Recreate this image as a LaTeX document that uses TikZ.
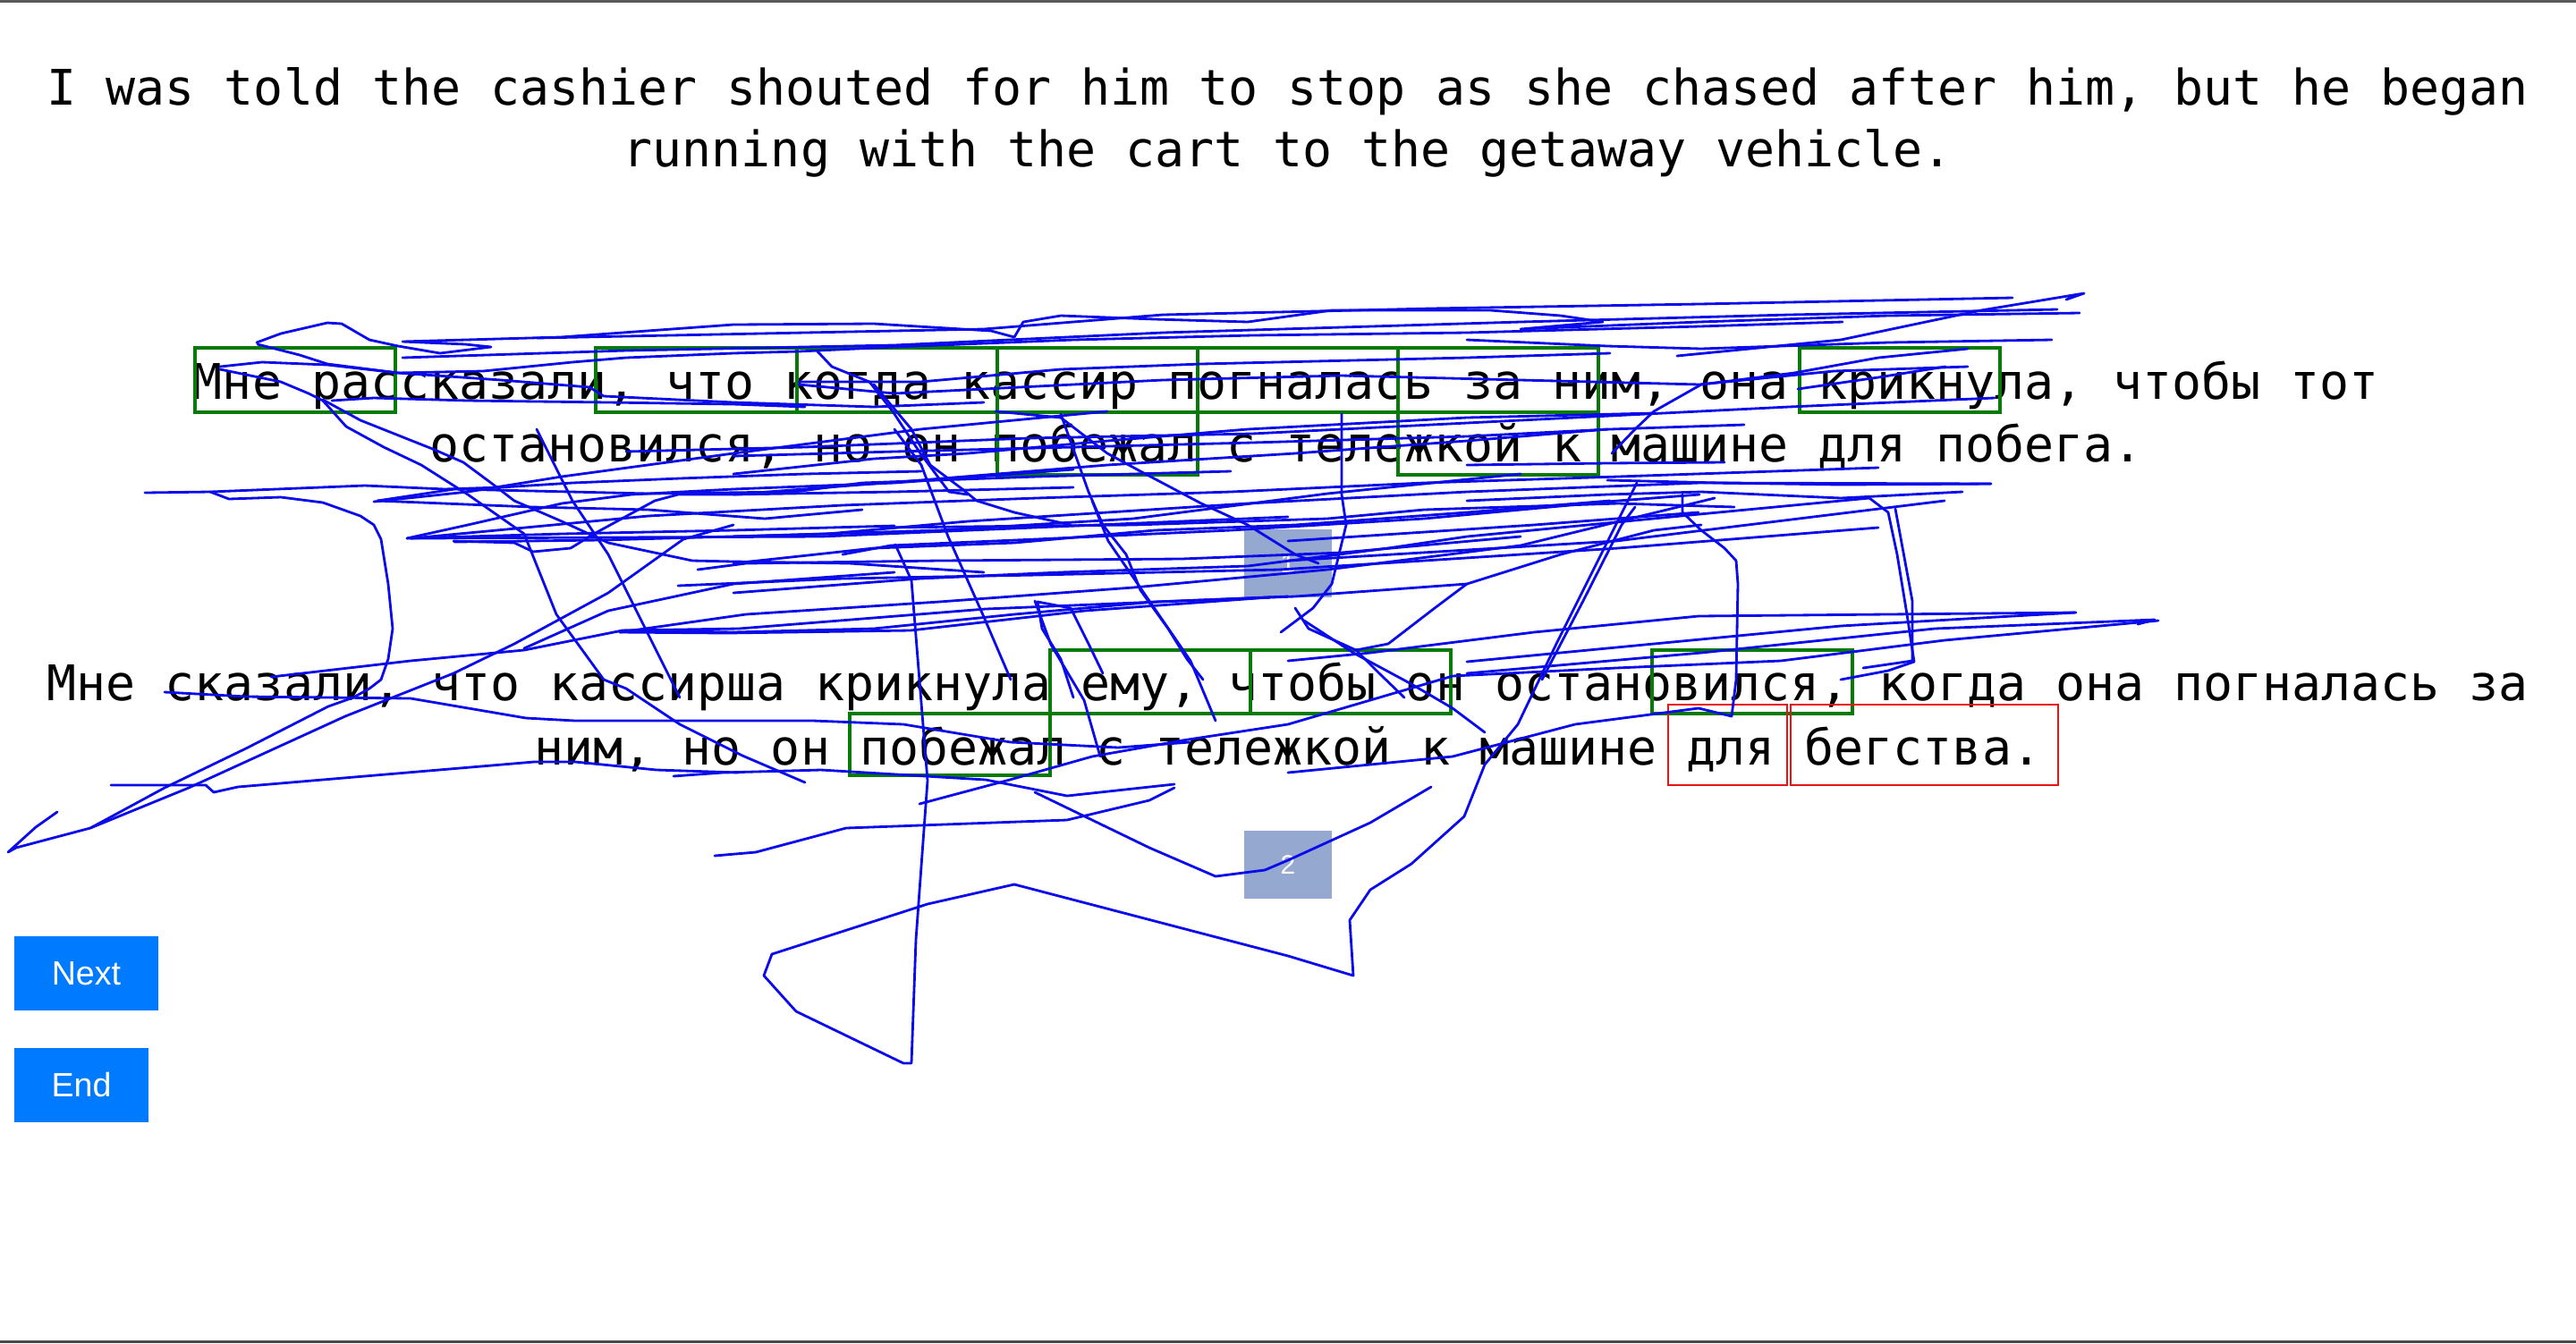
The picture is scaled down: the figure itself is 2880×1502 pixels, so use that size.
\documentclass[tikz,border=0pt]{standalone}
\usepackage{fontspec}
\setmainfont{Liberation Sans}
\setmonofont{DejaVu Sans Mono}
\definecolor{hitgreen}{RGB}{8,122,8}
\definecolor{missred}{RGB}{230,20,20}
\definecolor{tabgray}{RGB}{148,168,208}
\definecolor{btnblue}{RGB}{0,123,255}
\definecolor{gazeblue}{RGB}{10,10,235}
\definecolor{rulegray}{RGB}{90,90,90}
\begin{document}
\begin{tikzpicture}[x=0.01cm,y=-0.01cm]
	\tikzset{
		sent/.style={anchor=base,inner sep=0pt,font=\ttfamily\fontsize{15.6pt}{19pt}\selectfont},
		hit/.style={draw=hitgreen,line width=1.1pt},
		miss/.style={draw=missred,line width=0.6pt},
		btn/.style={text=white,font=\fontsize{10.7pt}{12pt}\selectfont},
		tabnum/.style={text=white,font=\fontsize{8.5pt}{10pt}\selectfont},
		gaze/.style={draw=gazeblue,line width=0.8pt,line join=round,line cap=round}
	}

	\useasboundingbox (0,0) rectangle (2880,1502);
	\fill[white] (0,0) rectangle (2880,1502);
	\fill[rulegray] (0,0) rectangle (2880,3);
	\fill[rulegray!80!black] (0,1499) rectangle (2880,1502);

	\node[sent] (en1) at (1440,117) {I was told the cashier shouted for him to stop as she chased after him, but he began};
	\node[sent] (en2) at (1440,186) {running with the cart to the getaway vehicle.};

	\node[sent] (ru11) at (1438,446) {Мне рассказали, что когда кассир погналась за ним, она крикнула, чтобы тот};
	\node[sent] (ru12) at (1438,516) {остановился, но он побежал с тележкой к машине для побега.};

	\node[sent] (ru21) at (1440,783) {Мне сказали, что кассирша крикнула ему, чтобы он остановился, когда она погналась за};
	\node[sent] (ru22) at (1440,855) {ним, но он побежал с тележкой к машине для бегства.};

	\foreach \k in {0,2,3,4,5,6,8}
		\draw[hit] (218+224.2*\k,389) rectangle ++(224.2,72);
	\foreach \k in {4,6}
		\draw[hit] (218+224.2*\k,461) rectangle ++(224.2,70);
	\foreach \k in {5,6,8}
		\draw[hit] (53+224.2*\k,727) rectangle ++(224.2,71);
	\draw[hit] (53+224.2*4,798) rectangle ++(224.2,69);

	\draw[miss] (1865,788) rectangle (1998,878);
	\draw[miss] (2002,788) rectangle (2301,878);

	\fill[tabgray] (1391,592) rectangle (1489,668) node[pos=.5,tabnum] (tab1) {1};
	\fill[tabgray] (1391,929) rectangle (1489,1005) node[pos=.5,tabnum] (tab2) {2};

	\fill[btnblue] (16,1047) rectangle (177,1130) node[pos=.5,btn] (next) {Next};
	\fill[btnblue] (16,1172) rectangle (166,1255) node[pos=.5,btn] (end) {End};

	\draw[gaze] (287,383) -- (314,373) -- (366,361) -- (382,362) -- (413,380) -- (445,387) -- (492,395) -- (549,388) -- (520,385) -- (450,382) -- (627,377) -- (820,363) -- (977,362) -- (1108,370) -- (1134,377) -- (1144,360) -- (1186,353) -- (1291,357) -- (1395,360) -- (1489,347) -- (1640,347) -- (1666,347) -- (1745,353) -- (1792,360) -- (1700,368) -- (1900,360) -- (2111,353) -- (2325,350);
	\draw[gaze] (288,385) -- (335,397) -- (366,407) -- (445,417) -- (560,425) -- (659,433) -- (675,443) -- (820,450) -- (977,455) -- (1100,450);
	\draw[gaze] (246,410) -- (293,405) -- (366,408) -- (445,417) -- (540,415) -- (640,405) -- (700,400) -- (820,395) -- (893,393) -- (1000,388) -- (1200,380) -- (1400,375) -- (1640,372) -- (1900,365) -- (2060,360);
	\draw[gaze] (246,413) -- (314,427) -- (345,440) -- (361,448) -- (387,477) -- (429,500) -- (471,520) -- (523,553) -- (586,597) -- (622,687) -- (675,760) -- (700,770) -- (760,810) -- (830,845) -- (900,875);
	\draw[gaze] (361,447) -- (403,470) -- (486,503) -- (518,517) -- (549,540) -- (575,560) -- (628,583) -- (680,607) -- (774,627) -- (820,628) -- (950,630) -- (1100,640);
	\draw[gaze] (371,448) -- (418,445) -- (523,448) -- (680,450) -- (820,452) -- (900,455);
	\draw[gaze] (162,551) -- (235,550) -- (256,558) -- (314,556) -- (361,562) -- (403,577) -- (418,587) -- (426,603) -- (434,653) -- (439,703) -- (434,737) -- (426,760) -- (413,770) -- (395,780) -- (367,790) -- (275,837) -- (184,881) -- (101,926) -- (18,948) -- (9,953) -- (40,925) -- (64,908);
	\draw[gaze] (235,550) -- (408,543) -- (497,547) -- (560,545) -- (640,540) -- (760,535) -- (900,530) -- (1030,527);
	\draw[gaze] (418,561) -- (523,550) -- (628,533) -- (820,507) -- (1029,480) -- (1238,460);
	\draw[gaze] (455,602) -- (523,587) -- (628,563) -- (706,553) -- (820,547) -- (1000,540) -- (1200,525);
	\draw[gaze] (455,602) -- (628,597) -- (820,593) -- (1000,588);
	\draw[gaze] (507,605) -- (575,607) -- (596,617) -- (638,613) -- (664,597) -- (732,560) -- (758,553) -- (820,553) -- (1000,550) -- (1200,545);
	\draw[gaze] (101,926) -- (211,881) -- (386,801) -- (507,753) -- (575,720) -- (680,663) -- (764,603) -- (820,587);
	\draw[gaze] (586,725) -- (680,683) -- (820,653) -- (1000,640);
	\draw[gaze] (696,705) -- (820,707) -- (977,703) -- (1134,687) -- (1291,673) -- (1448,667) -- (1640,653) -- (1745,620) -- (1849,593) -- (1902,587);
	\draw[gaze] (303,757) -- (459,739) -- (586,727) -- (696,705);
	\draw[gaze] (184,774) -- (275,779) -- (459,781) -- (588,803) -- (643,806) -- (909,806) -- (1010,810) -- (1130,830) -- (1250,836) -- (1330,830);
	\draw[gaze] (820,663) -- (1029,647) -- (1186,640) -- (1395,633) -- (1552,613) -- (1640,600) -- (1900,575) -- (2090,557);
	\draw[gaze] (820,630) -- (977,613) -- (1134,607) -- (1291,593) -- (1448,587) -- (1640,573) -- (1800,560);
	\draw[gaze] (820,600) -- (925,597) -- (1082,583) -- (1238,573) -- (1395,563) -- (1640,550) -- (1900,540) -- (2226,541);
	\draw[gaze] (820,553) -- (1029,537) -- (1238,520) -- (1448,507) -- (1640,493) -- (1797,480);
	\draw[gaze] (820,530) -- (977,513) -- (1082,507) -- (1238,493) -- (1395,480) -- (1640,467) -- (1850,462);
	\draw[gaze] (914,393) -- (930,410) -- (972,427) -- (998,460) -- (1029,507) -- (1061,550) -- (1082,553);
	\draw[gaze] (977,430) -- (1019,480) -- (1040,520) -- (1076,547) -- (1092,560) -- (1134,573) -- (1197,587);
	\draw[gaze] (1113,460) -- (1186,467) -- (1238,507) -- (1275,527) -- (1343,563) -- (1395,587) -- (1448,620) -- (1474,630);
	\draw[gaze] (1186,463) -- (1217,550) -- (1233,587) -- (1259,620) -- (1275,660) -- (1306,703) -- (1327,737) -- (1345,760);
	\draw[gaze] (1160,673) -- (1165,703) -- (1186,737) -- (1200,780);
	\draw[gaze] (1160,673) -- (1197,680) -- (1217,720) -- (1233,753);
	\draw[gaze] (1500,463) -- (1500,553) -- (1505,587) -- (1489,653) -- (1468,680) -- (1432,707);
	\draw[gaze] (1448,680) -- (1463,703) -- (1516,727) -- (1542,753) -- (1570,780);
	\draw[gaze] (1516,727) -- (1552,720) -- (1604,680) -- (1640,653);
	\draw[gaze] (1875,398) -- (2058,380) -- (2215,347) -- (2330,328) -- (2310,335);
	\draw[gaze] (1640,380) -- (1797,387) -- (1902,390) -- (2111,383) -- (2294,380);
	\draw[gaze] (1802,507) -- (1828,480) -- (1849,460) -- (1902,430) -- (2006,417) -- (2100,400) -- (2200,390);
	\draw[gaze] (1640,520) -- (1797,518) -- (1928,517);
	\draw[gaze] (1797,537) -- (1922,540) -- (2058,542) -- (2226,541);
	\draw[gaze] (1640,560) -- (1797,553) -- (1902,550) -- (2058,557) -- (2194,550);
	\draw[gaze] (1881,553) -- (1881,573) -- (1902,593) -- (1928,613) -- (1941,627) -- (1943,653) -- (1941,760) -- (1936,801) -- (1899,792) -- (1761,810) -- (1624,846) -- (1440,864);
	\draw[gaze] (2090,557) -- (2111,573) -- (2121,620) -- (2132,687) -- (2140,740) -- (2111,750) -- (2058,760);
	\draw[gaze] (1640,740) -- (1849,720) -- (2058,700) -- (2320,685);
	\draw[gaze] (1640,753) -- (1902,730) -- (2163,703) -- (2409,693) -- (2390,698);
	\draw[gaze] (1724,760) -- (1771,670) -- (1813,587) -- (1828,567);
	\draw[gaze] (1134,989) -- (1037,1011) -- (863,1067) -- (854,1091) -- (890,1131) -- (1010,1189) -- (1019,1189) -- (1024,1051) -- (1037,873) -- (1019,649) -- (1001,609);
	\draw[gaze] (1134,989) -- (1440,1069) -- (1513,1091) -- (1509,1029) -- (1532,995) -- (1578,966) -- (1637,913) -- (1660,855) -- (1697,810) -- (1740,720) -- (1790,620) -- (1830,540);
	\draw[gaze] (1028,899) -- (1129,872) -- (1221,846) -- (1322,828) -- (1440,810) -- (1624,756) -- (1807,747) -- (1991,739) -- (2174,716) -- (2413,694);
	\draw[gaze] (799,957) -- (845,953) -- (946,926) -- (1193,917) -- (1285,895) -- (1313,881);
	\draw[gaze] (753,868) -- (808,864) -- (918,861) -- (1102,872) -- (1193,890) -- (1313,877);
	\draw[gaze] (1157,886) -- (1285,948) -- (1359,980) -- (1414,973) -- (1440,962) -- (1532,920) -- (1600,880);
	\draw[gaze] (459,602) -- (918,600) -- (1440,578);
	\draw[gaze] (698,705) -- (826,703) -- (1102,681) -- (1440,667);
	\draw[gaze] (1157,672) -- (1175,721) -- (1212,783) -- (1230,846);
	\draw[gaze] (1221,560) -- (1239,605) -- (1285,672) -- (1331,739) -- (1359,806);
	\draw[gaze] (1440,739) -- (1532,730) -- (1715,707) -- (1899,689) -- (2321,685);
	\draw[gaze] (1458,694) -- (1513,730) -- (1578,765) -- (1624,792) -- (1660,819);
	\draw[gaze] (2083,747) -- (2138,739) -- (2138,672) -- (2119,569);
	\draw[gaze] (124,878) -- (230,878) -- (239,886) -- (266,880) -- (597,852) -- (643,852) -- (734,861) -- (826,864);
	\draw[gaze] (893,427) -- (1029,427) -- (1186,413) -- (1343,407) -- (1640,400) -- (1800,395);
	\draw[gaze] (893,430) -- (1000,440) -- (1100,435) -- (1300,425) -- (1500,420) -- (1700,425) -- (1900,430) -- (2050,415) -- (2200,410);
	\draw[gaze] (2010,435) -- (2100,422) -- (2175,410);
	\draw[gaze] (820,510) -- (1000,505) -- (1200,500) -- (1400,495) -- (1640,488) -- (1800,480) -- (1950,475);
	\draw[gaze] (1440,627) -- (1807,605) -- (2174,560);
	\draw[gaze] (1440,605) -- (1715,587) -- (1899,573);
	\draw[gaze] (422,560) -- (508,547) -- (725,552) -- (888,550) -- (964,540) -- (1159,533) -- (1376,527);
	\draw[gaze] (422,560) -- (595,567) -- (725,570) -- (855,580) -- (964,570);
	\draw[gaze] (460,602) -- (725,577) -- (942,565) -- (1159,557) -- (1376,550) -- (1592,540) -- (1809,533) -- (2100,523);
	\draw[gaze] (508,606) -- (671,604) -- (888,598) -- (1050,593) -- (1267,580) -- (1484,552) -- (1700,530);
	\draw[gaze] (985,590) -- (1267,587) -- (1484,580) -- (1592,570) -- (1809,563) -- (1939,567);
	\draw[gaze] (942,620) -- (996,610) -- (1159,603) -- (1376,593) -- (1592,580) -- (1809,560) -- (1900,553);
	\draw[gaze] (758,655) -- (942,647) -- (1159,643) -- (1430,637) -- (1592,627) -- (1809,613) -- (2100,590);
	\draw[gaze] (780,637) -- (834,630) -- (1050,627) -- (1321,625) -- (1500,618) -- (1700,600);
	\draw[gaze] (693,707) -- (812,708) -- (1018,705) -- (1213,683) -- (1419,668);
	\draw[gaze] (693,707) -- (834,687) -- (1050,673) -- (1267,657) -- (1484,637) -- (1700,610) -- (1917,557);
	\draw[gaze] (450,400) -- (700,392) -- (1000,386) -- (1300,372) -- (1500,366) -- (1700,360) -- (2000,352) -- (2300,346);
	\draw[gaze] (600,378) -- (900,372) -- (1100,368) -- (1300,352) -- (1600,345) -- (1900,340) -- (2250,333);
	\draw[gaze] (700,505) -- (900,500) -- (1150,490) -- (1400,485) -- (1700,470) -- (2000,455) -- (2230,445);
	\draw[gaze] (1000,480) -- (1030,520) -- (1060,600) -- (1100,690) -- (1130,760);
	\draw[gaze] (600,480) -- (640,560) -- (680,620) -- (720,700) -- (760,780);
\end{tikzpicture}
\end{document}
